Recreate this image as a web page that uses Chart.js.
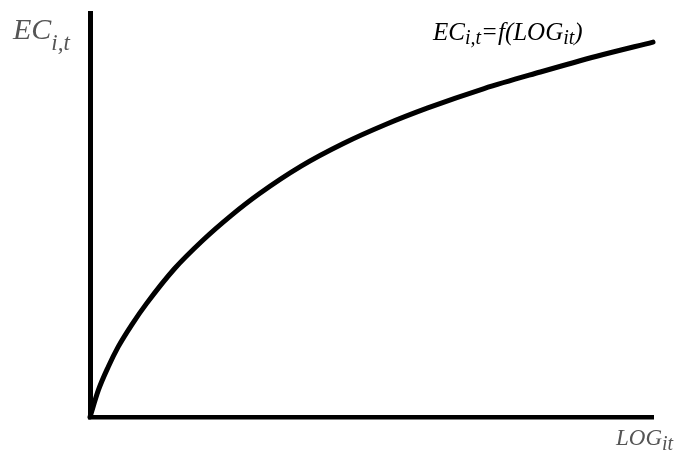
<!DOCTYPE html>
<html lang="en">
<head>
    <meta charset="UTF-8">
    <title>EC = f(LOG)</title>
    <script src="https://cdn.jsdelivr.net/npm/chart.js"></script>
    <style>
        body { margin: 0; background: #fff; }
    </style>
</head>
<body>
    <canvas id="ecChart" width="683" height="455"></canvas>

    <script>
        // curve (arbitrary units, 0..100 on both axes)
        const logValues = [0, 1.5, 3.25, 5, 7.5, 10, 15, 20, 25, 30, 37.5, 45, 52.5, 60, 70, 80, 90, 100];
        const ecValues  = [0, 6.7, 12.45, 17.35, 23.0, 28.0, 36.7, 43.7, 49.8, 55.2, 62.1, 67.7, 72.4, 76.5, 81.3, 85.4, 89.3, 92.8];

        const serif = '"Liberation Serif", "DejaVu Serif", serif';

        // draw text pieces one after another, some as subscripts
        function drawRich(ctx, x, y, parts, color) {
            ctx.save();
            ctx.fillStyle = color;
            ctx.textBaseline = 'alphabetic';
            ctx.textAlign = 'left';
            parts.forEach(function (p) {
                ctx.font = 'italic ' + p.size + 'px ' + serif;
                ctx.fillText(p.text, x, y + (p.dy || 0));
                x += ctx.measureText(p.text).width;
            });
            ctx.restore();
        }

        const labelsPlugin = {
            id: 'labels',
            afterDraw(chart) {
                const ctx = chart.ctx;
                drawRich(ctx, 13, 39, [
                    { text: 'EC', size: 30 },
                    { text: 'i,t', size: 23, dy: 11 }
                ], '#555555');
                drawRich(ctx, 433, 40, [
                    { text: 'EC', size: 25 },
                    { text: 'i,t', size: 20, dy: 4 },
                    { text: '=f(LOG', size: 25 },
                    { text: 'it', size: 20, dy: 4 },
                    { text: ')', size: 25 }
                ], '#000000');
                drawRich(ctx, 616, 445, [
                    { text: 'LOG', size: 23 },
                    { text: 'it', size: 20, dy: 5 }
                ], '#555555');
            }
        };

        let ecChart;

        function drawChart() {
            let ctx = document.getElementById('ecChart').getContext('2d');
            ecChart = new Chart(ctx, {
                type: 'line',
                data: {
                    datasets: [{
                        data: logValues.map(function (v, i) { return { x: v, y: ecValues[i] }; }),
                        borderColor: '#000000',
                        borderWidth: 5,
                        pointRadius: 0,
                        fill: false,
                        cubicInterpolationMode: 'monotone',
                        borderCapStyle: 'round',
                        clip: false
                    }]
                },
                options: {
                    responsive: false,
                    animation: false,
                    layout: { padding: { left: 90, right: 30, top: 13, bottom: 38 } },
                    plugins: {
                        legend: { display: false },
                        tooltip: { enabled: false }
                    },
                    scales: {
                        x: {
                            type: 'linear',
                            min: 0,
                            max: 100,
                            grid: { display: false, drawTicks: false },
                            ticks: { display: false },
                            border: { display: true, color: '#000000', width: 4.5 }
                        },
                        y: {
                            min: 0,
                            max: 100,
                            grid: { display: false, drawTicks: false },
                            ticks: { display: false },
                            border: { display: true, color: '#000000', width: 5 }
                        }
                    }
                },
                plugins: [labelsPlugin]
            });
        }

        window.onload = drawChart;
    </script>
</body>
</html>
